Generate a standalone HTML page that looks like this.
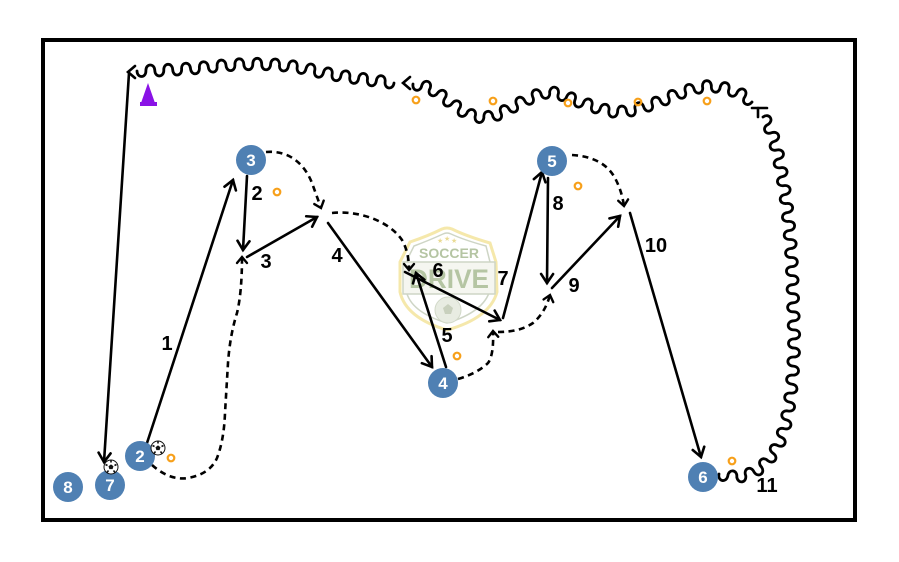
<!DOCTYPE html>
<html><head><meta charset="utf-8">
<style>
html,body{margin:0;padding:0;background:#fff;}
svg{display:block}
.p{stroke:#000;stroke-width:2.6;fill:none;stroke-linecap:round}
.d{stroke:#000;stroke-width:2.6;fill:none;stroke-dasharray:6 4.5}
.wave{stroke:#000;stroke-width:2.8;fill:none;stroke-linecap:round}
.lbl{font-family:"Liberation Sans",sans-serif;font-weight:bold;font-size:20px;fill:#000;text-anchor:middle}
.pl{fill:#4f80b3}
.pn{font-family:"Liberation Sans",sans-serif;font-weight:bold;font-size:17px;fill:#fff;text-anchor:middle}
.ring{fill:none;stroke:#f7a01a;stroke-width:2.2}
.chev{fill:none;stroke:#000;stroke-width:2.6;stroke-linecap:round}
</style></head><body>
<svg id="c" width="899" height="562" viewBox="0 0 899 562" xmlns="http://www.w3.org/2000/svg">
<defs>
<marker id="a" markerUnits="userSpaceOnUse" viewBox="-14 -10 18 20" markerWidth="18" markerHeight="20" refX="0" refY="0" orient="auto" overflow="visible">
<path d="M-9,-6 L0,0 L-9,6" fill="none" stroke="#000" stroke-width="2.6" stroke-linecap="round"/>
</marker>
<marker id="b" markerUnits="userSpaceOnUse" viewBox="-10 -8 14 16" markerWidth="14" markerHeight="16" refX="0" refY="0" orient="auto" overflow="visible">
<path d="M-6,-5 L0,0 L-6,5" fill="none" stroke="#000" stroke-width="2.4" stroke-linecap="round"/>
</marker>
</defs>

<rect x="0" y="0" width="899" height="562" fill="#fff"/>
<rect x="43" y="40" width="812" height="480" fill="#fff" stroke="#000" stroke-width="4"/>

<!-- Logo watermark -->
<g opacity="0.9">
<path d="M410 242 Q428 236 442 229 Q447 227 452 229 Q466 236 490 243 L496 262 L497 292 Q490 318 447 330 Q406 318 400 292 L400 262 Z" fill="#fff" stroke="#f5e6a3" stroke-width="3"/>
<path d="M414 246 Q430 240 443 234 Q447 232 451 234 Q464 240 486 246 L490 262 L490 290 Q484 312 447 323 Q410 312 406 290 L406 262 Z" fill="none" stroke="#c9d1bf" stroke-width="1.5"/>
<text x="437" y="243" font-family="Liberation Sans,sans-serif" font-size="7" fill="#e8d88a">★</text>
<text x="444" y="241" font-family="Liberation Sans,sans-serif" font-size="7" fill="#e8d88a">★</text>
<text x="451" y="243" font-family="Liberation Sans,sans-serif" font-size="7" fill="#e8d88a">★</text>
<text x="449" y="258" font-family="Liberation Sans,sans-serif" font-weight="bold" font-size="14" fill="#aebf9a" text-anchor="middle" textLength="60" lengthAdjust="spacingAndGlyphs">SOCCER</text>
<rect x="403" y="262" width="92" height="32" fill="#f4f6ef" stroke="#c9d1bf" stroke-width="1.5"/>
<text x="449" y="288" font-family="Liberation Sans,sans-serif" font-weight="bold" font-size="27" fill="#aebf9a" text-anchor="middle" textLength="80" lengthAdjust="spacingAndGlyphs">DRIVE</text>
<circle cx="448" cy="310" r="13" fill="#e6eadf" stroke="#cdd5c3" stroke-width="1"/>
<polygon points="448,304 453,308 451,314 445,314 443,308" fill="#c3ccb6"/>
</g>

<!-- Pass lines -->
<line class="p" x1="129" y1="73" x2="104" y2="462" marker-end="url(#a)"/>
<line class="p" x1="147" y1="443" x2="233" y2="180" marker-end="url(#a)"/>
<line class="p" x1="247" y1="176" x2="243" y2="250" marker-end="url(#a)"/>
<line class="p" x1="247" y1="257" x2="317" y2="217" marker-end="url(#a)"/>
<line class="p" x1="328" y1="223" x2="432" y2="367" marker-end="url(#a)"/>
<line class="p" x1="446" y1="367" x2="416" y2="273" marker-end="url(#a)"/>
<line class="p" x1="405" y1="272" x2="500" y2="320" marker-end="url(#a)"/>
<line class="p" x1="503" y1="318" x2="542" y2="172" marker-end="url(#a)"/>
<line class="p" x1="548" y1="178" x2="547" y2="283" marker-end="url(#a)"/>
<line class="p" x1="552" y1="288" x2="620" y2="216" marker-end="url(#a)"/>
<line class="p" x1="630" y1="213" x2="701" y2="457" marker-end="url(#a)"/>

<!-- Dashed runs -->
<path class="d" d="M152 465 Q170 481 188 478 Q210 474 217 458 Q224 440 225 413 L228 363 Q230 335 237 313 Q242 292 242 257" marker-end="url(#b)"/>
<path class="d" d="M266 152 C290 150 305 165 312 183 L321 208" marker-end="url(#b)"/>
<path class="d" d="M332 213 C360 210 390 222 402 240 Q409 252 409 270" marker-end="url(#b)"/>
<path class="d" d="M458 379 Q478 373 488 363 Q494 355 493 331" marker-end="url(#b)"/>
<path class="d" d="M498 332 Q520 332 533 323 Q545 313 550 295" marker-end="url(#b)"/>
<path class="d" d="M572 155 Q605 157 616 180 Q622 192 624 206" marker-end="url(#b)"/>

<!-- Wave arrowheads -->
<polyline class="chev" points="135,66 128,72 135,78"/>
<polyline class="chev" points="410,77 403,83 410,89"/>
<polyline class="chev" points="752,108 767,108"/>
<polyline class="chev" points="758,108 758,117"/>

<!-- Waves (filled by script) -->
<g id="waves"></g>

<!-- Cone -->
<polygon points="148,83 141,103 155,103" fill="#8a12e6"/>
<rect x="140" y="102" width="17" height="4" fill="#8a12e6"/>

<!-- Orange rings -->
<circle class="ring" cx="416" cy="100" r="3.3"/>
<circle class="ring" cx="493" cy="101" r="3.3"/>
<circle class="ring" cx="568" cy="103" r="3.3"/>
<circle class="ring" cx="638" cy="102" r="3.3"/>
<circle class="ring" cx="707" cy="101" r="3.3"/>
<circle class="ring" cx="277" cy="192" r="3.3"/>
<circle class="ring" cx="578" cy="186" r="3.3"/>
<circle class="ring" cx="171" cy="458" r="3.3"/>
<circle class="ring" cx="457" cy="356" r="3.3"/>
<circle class="ring" cx="732" cy="461" r="3.3"/>

<!-- Players -->
<circle class="pl" cx="251" cy="160" r="15"/><text class="pn" x="251" y="166">3</text>
<circle class="pl" cx="552" cy="161" r="15"/><text class="pn" x="552" y="167">5</text>
<circle class="pl" cx="140" cy="456" r="15"/><text class="pn" x="140" y="462">2</text>
<circle class="pl" cx="68" cy="487" r="15"/><text class="pn" x="68" y="493">8</text>
<circle class="pl" cx="110" cy="485" r="15"/><text class="pn" x="110" y="491">7</text>
<circle class="pl" cx="443" cy="383" r="15"/><text class="pn" x="443" y="389">4</text>
<circle class="pl" cx="703" cy="477" r="15"/><text class="pn" x="703" y="483">6</text>

<!-- Balls -->
<g transform="translate(158,448)">
<circle r="7" fill="#fff" stroke="#111" stroke-width="1"/>
<polygon points="0,-2.6 2.5,-0.8 1.6,2.1 -1.6,2.1 -2.5,-0.8" fill="#111"/>
<path d="M0,-7 L0,-4.5 M5.5,-2.5 L3.5,-1.5 M4,5.5 L2.5,3.5 M-4,5.5 L-2.5,3.5 M-5.5,-2.5 L-3.5,-1.5" stroke="#111" stroke-width="1.6"/>
</g>
<g transform="translate(111,467)">
<circle r="7" fill="#fff" stroke="#111" stroke-width="1"/>
<polygon points="0,-2.6 2.5,-0.8 1.6,2.1 -1.6,2.1 -2.5,-0.8" fill="#111"/>
<path d="M0,-7 L0,-4.5 M5.5,-2.5 L3.5,-1.5 M4,5.5 L2.5,3.5 M-4,5.5 L-2.5,3.5 M-5.5,-2.5 L-3.5,-1.5" stroke="#111" stroke-width="1.6"/>
</g>

<!-- Labels -->
<text class="lbl" x="167" y="350">1</text>
<text class="lbl" x="257" y="200">2</text>
<text class="lbl" x="266" y="268">3</text>
<text class="lbl" x="337" y="262">4</text>
<text class="lbl" x="447" y="342">5</text>
<text class="lbl" x="438" y="277">6</text>
<text class="lbl" x="503" y="285">7</text>
<text class="lbl" x="558" y="210">8</text>
<text class="lbl" x="574" y="292">9</text>
<text class="lbl" x="656" y="252">10</text>
<text class="lbl" x="767" y="492">11</text>
</svg>
<script>
(function(){
  var ns='http://www.w3.org/2000/svg';
  var g=document.getElementById('waves');
  function cr(pts){
    var d='M'+pts[0][0]+' '+pts[0][1];
    for(var i=0;i<pts.length-1;i++){
      var p0=pts[i-1]||pts[i],p1=pts[i],p2=pts[i+1],p3=pts[i+2]||p2;
      var c1=[p1[0]+(p2[0]-p0[0])/6,p1[1]+(p2[1]-p0[1])/6];
      var c2=[p2[0]-(p3[0]-p1[0])/6,p2[1]-(p3[1]-p1[1])/6];
      d+=' C'+c1[0]+' '+c1[1]+' '+c2[0]+' '+c2[1]+' '+p2[0]+' '+p2[1];
    }
    return d;
  }
  function f(v){return v.toFixed(1);}
  function wavy(pts,step,h){
    var p=document.createElementNS(ns,'path');
    p.setAttribute('d',cr(pts));
    g.appendChild(p);
    var L=p.getTotalLength();
    var n=Math.max(1,Math.round(L/step));
    var st=L/n;
    var pt=p.getPointAtLength(0);
    var out='M'+f(pt.x)+' '+f(pt.y);
    for(var i=1;i<=n;i++){
      var q=p.getPointAtLength(i*st);
      var dx=q.x-pt.x, dy=q.y-pt.y, len=Math.hypot(dx,dy)||1;
      var nx=-dy/len, ny=dx/len;
      var s=(i%2)?1:-1;
      out+=' C'+f(pt.x+nx*h*s)+' '+f(pt.y+ny*h*s)+' '+f(q.x+nx*h*s)+' '+f(q.y+ny*h*s)+' '+f(q.x)+' '+f(q.y);
      pt=q;
    }
    p.setAttribute('d',out);
    p.setAttribute('class','wave');
  }
  wavy([[137,71],[167,70],[197,68],[230,65],[263,64],[297,67],[330,74],[363,79],[394,83]],9,7.5);
  wavy([[413,84],[430,88],[450,102],[470,115],[490,117],[507,110],[522,102],[550,92],[583,103],[617,112],[650,105],[683,92],[710,86],[737,92],[752,102]],9,7.5);
  wavy([[719,474],[738,477],[756,471],[770,458],[782,436],[790,400],[794,350],[793,300],[791,250],[786,200],[778,155],[770,128],[763,117]],9,7.5);
})();
</script>
</body></html>
